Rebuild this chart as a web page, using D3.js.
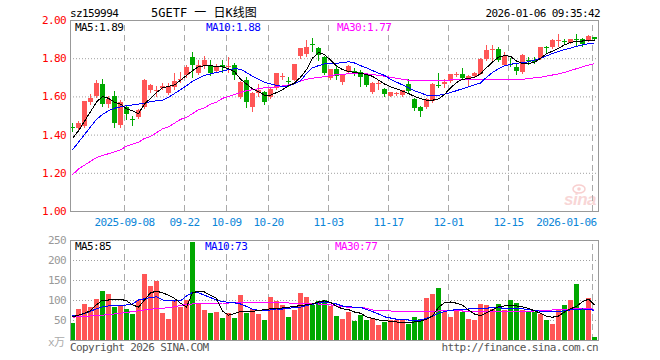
<!DOCTYPE html>
<html>
<head>
<meta charset="utf-8">
<script src="https://cdn.jsdelivr.net/npm/d3@7"></script>
<style>
  body { margin: 0; background: #fff; }
  svg { display: block; }
  text { font-family: "DejaVu Sans Mono", "Noto Sans CJK SC", monospace; font-size: 11px; letter-spacing: -0.6px; }
  .title { font-size: 12px; letter-spacing: 0; }
</style>
</head>
<body>
<svg id="chart" width="660" height="360"></svg>
<script>
// trading days, 2025-08-26 .. 2026-01-06
const dates = [
  '2025-08-26','2025-08-27','2025-08-28','2025-08-29','2025-09-01','2025-09-02','2025-09-03','2025-09-04','2025-09-05','2025-09-08',
  '2025-09-09','2025-09-10','2025-09-11','2025-09-12','2025-09-15','2025-09-16','2025-09-17','2025-09-18','2025-09-19','2025-09-22',
  '2025-09-23','2025-09-24','2025-09-25','2025-09-26','2025-09-29','2025-09-30','2025-10-09','2025-10-10','2025-10-13','2025-10-14',
  '2025-10-15','2025-10-16','2025-10-17','2025-10-20','2025-10-21','2025-10-22','2025-10-23','2025-10-24','2025-10-27','2025-10-28',
  '2025-10-29','2025-10-30','2025-10-31','2025-11-03','2025-11-04','2025-11-05','2025-11-06','2025-11-07','2025-11-10','2025-11-11',
  '2025-11-12','2025-11-13','2025-11-14','2025-11-17','2025-11-18','2025-11-19','2025-11-20','2025-11-21','2025-11-24','2025-11-25',
  '2025-11-26','2025-11-27','2025-11-28','2025-12-01','2025-12-02','2025-12-03','2025-12-04','2025-12-05','2025-12-08','2025-12-09',
  '2025-12-10','2025-12-11','2025-12-12','2025-12-15','2025-12-16','2025-12-17','2025-12-18','2025-12-19','2025-12-22','2025-12-23',
  '2025-12-24','2025-12-25','2025-12-26','2025-12-29','2025-12-30','2025-12-31','2026-01-05','2026-01-06'
];

const open = [
  1.440,1.437,1.445,1.573,1.600,1.665,1.558,1.600,1.450,1.545,
  1.480,1.492,1.547,1.632,1.632,1.645,1.618,1.648,1.688,1.710,
  1.808,1.722,1.757,1.767,1.735,1.762,1.756,1.765,1.597,1.686,
  1.547,1.617,1.625,1.598,1.645,1.700,1.680,1.688,1.812,1.822,
  1.872,1.852,1.808,1.695,1.742,1.677,1.730,1.732,1.726,1.714,
  1.625,1.664,1.639,1.603,1.612,1.607,1.665,1.586,1.547,1.547,
  1.577,1.658,1.665,1.680,1.713,1.718,1.696,1.709,1.718,1.796,
  1.843,1.846,1.767,1.772,1.755,1.726,1.790,1.793,1.800,1.860,
  1.860,1.893,1.892,1.881,1.898,1.898,1.893,1.910
];
const high = [
  1.460,1.470,1.578,1.610,1.686,1.690,1.600,1.630,1.580,1.555,
  1.500,1.532,1.690,1.665,1.656,1.672,1.668,1.720,1.726,1.762,
  1.832,1.788,1.810,1.790,1.770,1.790,1.805,1.775,1.682,1.700,
  1.625,1.665,1.630,1.650,1.725,1.720,1.700,1.772,1.855,1.895,
  1.905,1.860,1.812,1.745,1.765,1.715,1.765,1.748,1.740,1.720,
  1.675,1.682,1.645,1.625,1.622,1.636,1.690,1.590,1.552,1.592,
  1.668,1.722,1.690,1.718,1.730,1.747,1.712,1.728,1.800,1.867,
  1.867,1.858,1.830,1.800,1.768,1.820,1.806,1.805,1.860,1.866,
  1.900,1.925,1.900,1.902,1.928,1.905,1.922,1.912
];
const low = [
  1.420,1.430,1.440,1.560,1.595,1.550,1.545,1.440,1.440,1.480,
  1.450,1.488,1.540,1.625,1.604,1.640,1.610,1.640,1.674,1.700,
  1.700,1.715,1.750,1.710,1.730,1.726,1.726,1.690,1.590,1.547,
  1.525,1.600,1.560,1.592,1.640,1.690,1.655,1.685,1.800,1.810,
  1.840,1.790,1.715,1.690,1.690,1.665,1.725,1.712,1.652,1.655,
  1.620,1.640,1.603,1.600,1.605,1.603,1.620,1.530,1.495,1.540,
  1.570,1.650,1.650,1.675,1.705,1.690,1.656,1.705,1.715,1.790,
  1.790,1.785,1.762,1.760,1.715,1.722,1.772,1.776,1.798,1.835,
  1.855,1.865,1.875,1.878,1.870,1.865,1.890,1.895
];
const close = [
  1.437,1.463,1.575,1.594,1.672,1.560,1.588,1.462,1.572,1.510,
  1.478,1.527,1.687,1.660,1.635,1.655,1.656,1.682,1.692,1.756,
  1.762,1.767,1.791,1.720,1.761,1.755,1.760,1.710,1.674,1.572,
  1.618,1.633,1.572,1.640,1.720,1.705,1.675,1.768,1.852,1.857,
  1.868,1.818,1.725,1.742,1.705,1.712,1.760,1.728,1.700,1.662,
  1.670,1.668,1.612,1.621,1.616,1.632,1.628,1.537,1.525,1.589,
  1.665,1.655,1.677,1.715,1.716,1.694,1.708,1.725,1.796,1.845,
  1.846,1.790,1.812,1.769,1.733,1.818,1.787,1.781,1.858,1.857,
  1.897,1.896,1.888,1.898,1.895,1.875,1.914,1.898
];

// moving averages as drawn on the chart
const ma5 = [
  1.38,1.42,1.47,1.52,1.57,1.60,1.59,1.57,1.56,1.535,
  1.525,1.51,1.56,1.59,1.62,1.645,1.652,1.66,1.685,1.71,
  1.735,1.755,1.76,1.76,1.758,1.754,1.745,1.73,1.69,1.665,
  1.64,1.625,1.606,1.606,1.62,1.635,1.655,1.67,1.70,1.74,
  1.80,1.83,1.82,1.79,1.76,1.74,1.73,1.726,1.72,1.715,
  1.705,1.685,1.665,1.65,1.64,1.628,1.615,1.60,1.588,1.58,
  1.58,1.587,1.61,1.645,1.672,1.69,1.693,1.70,1.718,1.75,
  1.78,1.805,1.814,1.81,1.785,1.772,1.772,1.778,1.80,1.823,
  1.837,1.852,1.87,1.882,1.888,1.89,1.891,1.89
];
const ma10 = [
  1.32,1.36,1.40,1.44,1.48,1.505,1.525,1.538,1.545,1.551,
  1.555,1.56,1.565,1.572,1.577,1.58,1.595,1.615,1.635,1.656,
  1.68,1.695,1.71,1.718,1.725,1.732,1.74,1.745,1.742,1.725,
  1.705,1.69,1.675,1.665,1.658,1.652,1.655,1.665,1.682,1.72,
  1.75,1.761,1.77,1.774,1.774,1.776,1.782,1.775,1.761,1.75,
  1.735,1.722,1.71,1.69,1.675,1.66,1.645,1.63,1.618,1.607,
  1.604,1.606,1.612,1.62,1.63,1.64,1.65,1.66,1.67,1.70,
  1.725,1.745,1.76,1.768,1.773,1.777,1.781,1.79,1.80,1.812,
  1.825,1.835,1.845,1.853,1.862,1.87,1.876,1.88
];
const ma30 = [
  1.19,1.22,1.24,1.26,1.28,1.29,1.30,1.31,1.32,1.34,
  1.35,1.36,1.38,1.39,1.41,1.43,1.44,1.46,1.48,1.49,
  1.51,1.53,1.54,1.56,1.57,1.59,1.60,1.61,1.62,1.63,
  1.635,1.64,1.645,1.646,1.65,1.655,1.66,1.668,1.68,1.69,
  1.695,1.70,1.703,1.71,1.713,1.716,1.718,1.719,1.719,1.718,
  1.715,1.71,1.706,1.70,1.695,1.69,1.685,1.682,1.681,1.681,
  1.681,1.682,1.684,1.686,1.687,1.687,1.687,1.687,1.687,1.687,
  1.687,1.687,1.687,1.687,1.687,1.69,1.693,1.697,1.70,1.706,
  1.712,1.718,1.725,1.735,1.745,1.755,1.764,1.771
];

// volume, x万手
const volume = [
  42,78,90,82,102,122,116,82,88,78,
  66,100,166,136,148,68,52,100,82,100,
  245,92,75,68,71,55,67,55,112,67,
  77,65,50,107,97,87,57,75,117,107,
  87,97,100,85,60,52,70,48,62,50,
  55,38,45,50,50,52,40,58,52,105,
  115,130,70,58,78,70,52,50,90,88,
  78,90,75,100,92,75,72,70,65,50,
  40,75,88,100,140,80,105,8
];
const volMa5 = [
  58,62,67,73,88,100,100,101,102,98,
  88,82,100,118,122,118,112,104,92,82,
  118,122,120,112,104,72,62,66,71,71,
  72,73,76,78,79,80,82,84,86,88,
  90,95,98,94,84,78,76,70,67,58,
  54,50,48,47,45,44,44,45,47,52,
  60,82,93,95,92,87,75,65,61,68,
  75,83,85,87,85,83,79,73,67,59,
  57,60,70,78,84,96,102,87
];
const volMa10 = [
  60,62,66,72,78,83,85,86,87,87.5,
  90,100,103,106,108,100,98,97.5,98,110,
  119,118,112,106,100,96,94,93,90,84,
  77,74,72.5,75,77.5,77.5,79,81,82,86,
  89,93,95,93,90,85,83,82,82,76,
  71,65,58,55,52,51,50,50,50,54,
  60,67,71,74,76,77,77.5,78,78,79,
  82,81,79,79,79,78,76,74,72,71,
  71,71,73,75,76,77.5,77,74
];
const volMa30 = [
  57,58,59,60,61,62,64,65,67,69,
  71,73,75,77,78,79,81,83,86,89,
  90,91,91.5,92,92,92.5,92.5,93,93,93.5,
  94,94,94,93.5,93,93,92.5,92,91.5,91,
  90.5,90,90,88,85,83,82,82,82,79,
  75,74,73,72.5,72,71,71,71,71,71.5,
  72,72.5,73,73,73,72.5,72.5,72,71.5,71,
  71,71,71,71,71,71.5,72,72.5,73,74,
  75,76,77,77.5,78.5,79,78,77
];

const priceTicks = [1.0, 1.2, 1.4, 1.6, 1.8, 2.0];
const volTicks = [50, 100, 150, 200, 250];
const tickDates = ['2025-09-08','2025-09-22','2025-10-09','2025-10-20','2025-11-03','2025-11-17','2025-12-01','2025-12-15','2026-01-06'];
const tickLabels = ['2025-09-08','09-22','10-09','10-20','11-03','11-17','12-01','12-15','2026-01-06'];

const priceLegend = [
  {label: 'MA5:1.89', color: '#000', x: 75},
  {label: 'MA10:1.88', color: '#0000ff', x: 206},
  {label: 'MA30:1.77', color: '#ff00ff', x: 337}
];
const volLegend = [
  {label: 'MA5:85', color: '#000', x: 75},
  {label: 'MA10:73', color: '#0000ff', x: 205},
  {label: 'MA30:77', color: '#ff00ff', x: 335}
];

const RED = '#ff5656';
const GREEN = '#00a800';

const svg = d3.select('#chart');
const plot = {left: 70, right: 598, top: 20, bottom: 211, volTop: 240, volBottom: 340};

const xScale = d3.scalePoint().domain(dates).range([72, 594]);
const yScale = d3.scaleLinear().domain([1, 2]).range([plot.bottom, plot.top]);
const vScale = d3.scaleLinear().domain([0, 250]).range([plot.volBottom, plot.volTop]);

const cx = d => Math.round(xScale(d));

const candles = dates.map((d, i) => ({
  date: d, o: open[i], h: high[i], l: low[i], c: close[i], v: volume[i]
}));
const colorOf = d => d.c >= d.o ? RED : GREEN;

// header
svg.append('text').attr('x', 70).attr('y', 17).attr('fill', '#000').text('sz159994');
svg.append('text').attr('class', 'title').attr('x', 151).attr('y', 17).attr('fill', '#000').text('5GETF 一 日K线图');
svg.append('text').attr('x', 600).attr('y', 17).attr('text-anchor', 'end').attr('fill', '#000').text('2026-01-06 09:35:42');

// watermark
const wm = svg.append('g').attr('opacity', 0.4);
wm.append('ellipse').attr('cx', 579).attr('cy', 189).attr('rx', 6).attr('ry', 4)
  .attr('fill', 'none').attr('stroke', '#f08a8a').attr('stroke-width', 1.5);
wm.append('circle').attr('cx', 579).attr('cy', 189).attr('r', 1.8).attr('fill', '#f08a8a');
wm.append('text').attr('x', 564).attr('y', 205)
  .style('font-family', '"Liberation Sans", Arial, sans-serif')
  .style('font-size', '17px').style('font-style', 'italic').style('font-weight', 'bold')
  .style('letter-spacing', '-0.5px')
  .attr('fill', '#f09a9a').text('sina');

// price y axis + dotted grid
svg.append('g')
    .attr('class', 'y-axis')
    .attr('transform', `translate(${plot.left},0)`)
  .call(d3.axisLeft(yScale)
    .tickValues(priceTicks)
    .tickSize(-(plot.right - plot.left))
    .tickPadding(4)
    .tickFormat(d3.format('.2f')))
  .call(g => g.select('.domain').remove())
  .call(g => g.selectAll('line').attr('stroke', '#a0a0a0').attr('stroke-dasharray', '1,2'))
  .call(g => g.selectAll('text').attr('fill', '#ff0000'));

// volume y axis + dotted grid
svg.append('g')
    .attr('class', 'v-axis')
    .attr('transform', `translate(${plot.left},0)`)
  .call(d3.axisLeft(vScale)
    .tickValues(volTicks)
    .tickSize(-(plot.right - plot.left))
    .tickPadding(4))
  .call(g => g.select('.domain').remove())
  .call(g => g.selectAll('line').attr('stroke', '#a0a0a0').attr('stroke-dasharray', '1,2'))
  .call(g => g.selectAll('text').attr('fill', '#999'));

// x axis: dashed verticals and date labels
svg.append('g')
    .attr('class', 'x-axis')
    .attr('transform', `translate(-2,${plot.bottom})`)
  .call(d3.axisBottom(xScale)
    .tickValues(tickDates)
    .tickSize(-(plot.bottom - plot.top))
    .tickPadding(7)
    .tickFormat((d, i) => tickLabels[i]))
  .call(g => g.select('.domain').remove())
  .call(g => g.selectAll('line').attr('stroke', '#aaa').attr('stroke-dasharray', '6,4'))
  .call(g => g.selectAll('text').attr('fill', '#0c86d8'))
  .call(g => g.selectAll('.tick:last-of-type text').attr('text-anchor', 'end').attr('x', 4));

svg.append('g')
    .attr('class', 'x-axis-vol')
    .attr('transform', `translate(-2,${plot.volBottom})`)
  .call(d3.axisBottom(xScale)
    .tickValues(tickDates)
    .tickSize(-(plot.volBottom - plot.volTop))
    .tickFormat(''))
  .call(g => g.select('.domain').remove())
  .call(g => g.selectAll('line').attr('stroke', '#aaa').attr('stroke-dasharray', '6,4'));

// candles
const cg = svg.append('g').attr('class', 'candles');
cg.selectAll('.wick').data(candles).join('line')
  .attr('class', 'wick')
  .attr('x1', d => cx(d.date) + 0.5)
  .attr('x2', d => cx(d.date) + 0.5)
  .attr('y1', d => Math.round(yScale(d.h)))
  .attr('y2', d => Math.round(yScale(d.l)) + 1)
  .attr('stroke', colorOf);

cg.selectAll('.body').data(candles).join('rect')
  .attr('class', 'body')
  .attr('x', d => cx(d.date) - 2)
  .attr('width', 5)
  .attr('y', d => Math.round(yScale(Math.max(d.o, d.c))))
  .attr('height', d => Math.max(1, Math.round(yScale(Math.min(d.o, d.c))) - Math.round(yScale(Math.max(d.o, d.c)))))
  .attr('fill', colorOf);

// volume bars
svg.append('g').attr('class', 'vol').selectAll('rect').data(candles).join('rect')
  .attr('x', d => cx(d.date) - 2)
  .attr('width', 5)
  .attr('y', d => Math.round(vScale(d.v)))
  .attr('height', d => plot.volBottom - Math.round(vScale(d.v)))
  .attr('fill', colorOf);

// MA lines
const drawLine = (values, scale, color) => {
  const line = d3.line()
    .x((d, i) => cx(dates[i]) + 0.5)
    .y(d => scale(d));
  svg.append('path')
    .datum(values)
    .attr('d', line)
    .attr('fill', 'none')
    .attr('stroke', color)
    .attr('stroke-width', 1)
    .attr('shape-rendering', 'crispEdges');
};
drawLine(ma30, yScale, '#ff00ff');
drawLine(ma10, yScale, '#0000ff');
drawLine(ma5, yScale, '#000');
drawLine(volMa30, vScale, '#ff00ff');
drawLine(volMa10, vScale, '#0000ff');
drawLine(volMa5, vScale, '#000');

// frames
const frame = (top, bottom) => svg.append('rect')
  .attr('x', plot.left + 0.5).attr('y', top + 0.5)
  .attr('width', plot.right - plot.left).attr('height', bottom - top)
  .attr('fill', 'none').attr('stroke', '#999');
frame(plot.top, plot.bottom);
frame(plot.volTop, plot.volBottom);

// legends
svg.selectAll('.price-legend').data(priceLegend).join('text')
  .attr('class', 'price-legend')
  .attr('x', d => d.x).attr('y', 31)
  .attr('fill', d => d.color).text(d => d.label);
svg.selectAll('.vol-legend').data(volLegend).join('text')
  .attr('class', 'vol-legend')
  .attr('x', d => d.x).attr('y', 250)
  .attr('fill', d => d.color).text(d => d.label);

// footer
svg.append('text').attr('x', 48).attr('y', 346).attr('fill', '#aaa').text('x万');
svg.append('text').attr('x', 70).attr('y', 351).attr('fill', '#555').text('Copyright 2026 SINA.COM');
svg.append('text').attr('x', 598).attr('y', 351).attr('text-anchor', 'end').attr('fill', '#555').text('http://finance.sina.com.cn');
</script>
</body>
</html>
